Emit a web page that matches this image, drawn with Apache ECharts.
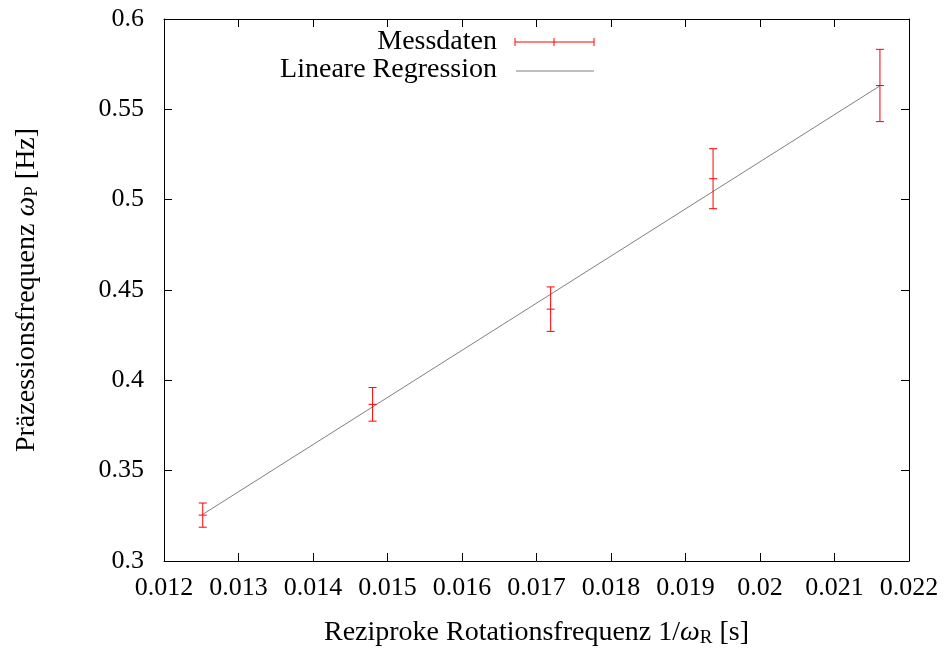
<!DOCTYPE html>
<html>
<head>
<meta charset="utf-8">
<script src="https://cdn.jsdelivr.net/npm/echarts@6/dist/echarts.min.js"></script>
<style>
html,body{margin:0;padding:0;background:#fff;}
#main{width:949px;height:653px;}
</style>
</head>
<body>
<div id="main"></div>
<script>
var xVals = [0.01252, 0.0148, 0.01719, 0.01937, 0.02161];
var yVals = [0.3254, 0.3867, 0.4394, 0.5116, 0.5632];
var yErr = [0.0067, 0.0093, 0.0123, 0.0166, 0.0200];
// lineare Regression, Endpunkte
var regX = [0.01252, 0.02161];
var regY = [0.3258, 0.5630];

var FONT = '"Liberation Serif", "Times New Roman", serif';

var errData = xVals.map(function (x, i) {
    return [x, yVals[i], yVals[i] - yErr[i], yVals[i] + yErr[i]];
});
var regData = regX.map(function (x, i) { return [x, regY[i]]; });

var chart = echarts.init(document.getElementById('main'));

var tickStyle = { show: true, inside: true, length: 8, lineStyle: { color: '#000', width: 1 } };
var lineStyle = { show: true, lineStyle: { color: '#000', width: 1 } };
var nameRich = {
    n: { fontFamily: FONT, fontSize: 28, color: '#000' },
    i: { fontFamily: FONT, fontSize: 28, fontStyle: 'italic', color: '#000' },
    s: { fontFamily: FONT, fontSize: 19, color: '#000', padding: [12, 0, 0, 0] }
};

var option = {
    animation: false,
    backgroundColor: '#fff',
    grid: { left: 164, right: 40, top: 19, bottom: 91 },
    xAxis: [{
        type: 'value',
        min: 0.012, max: 0.022, interval: 0.001,
        axisLine: lineStyle,
        axisTick: tickStyle,
        splitLine: { show: false },
        axisLabel: {
            margin: 14,
            color: '#000',
            fontFamily: FONT,
            fontSize: 26,
            formatter: function (v) { return String(parseFloat(v.toFixed(3))); }
        },
        name: '{n|Reziproke Rotationsfrequenz 1/}{i|ω}{s|R}{n| [s]}',
        nameLocation: 'middle',
        nameGap: 56,
        nameTextStyle: { color: '#000', rich: nameRich }
    }, {
        type: 'value', position: 'top',
        min: 0.012, max: 0.022, interval: 0.001,
        axisLine: lineStyle,
        axisTick: tickStyle,
        axisLabel: { show: false },
        splitLine: { show: false }
    }],
    yAxis: [{
        type: 'value',
        min: 0.3, max: 0.6, interval: 0.05,
        axisLine: lineStyle,
        axisTick: tickStyle,
        splitLine: { show: false },
        axisLabel: {
            margin: 20,
            color: '#000',
            fontFamily: FONT,
            fontSize: 26,
            formatter: function (v) { return String(parseFloat(v.toFixed(2))); }
        },
        name: '{n|Präzessionsfrequenz }{i|ω}{s|P}{n| [Hz]}',
        nameLocation: 'middle',
        nameGap: 122,
        nameTextStyle: { color: '#000', rich: nameRich }
    }, {
        type: 'value', position: 'right',
        min: 0.3, max: 0.6, interval: 0.05,
        axisLine: lineStyle,
        axisTick: tickStyle,
        axisLabel: { show: false },
        splitLine: { show: false }
    }],
    series: [{
        name: 'Lineare Regression',
        type: 'line',
        data: regData,
        symbol: 'none',
        lineStyle: { color: '#808080', width: 1 },
        z: 2
    }, {
        name: 'Messdaten',
        type: 'custom',
        data: errData,
        encode: { x: 0, y: 1 },
        z: 3,
        renderItem: function (params, api) {
            var x = api.value(0);
            var c = api.coord([x, api.value(1)]);
            var lo = api.coord([x, api.value(2)]);
            var hi = api.coord([x, api.value(3)]);
            var w = 4;
            var st = { stroke: '#ff0000', lineWidth: 1 };
            return {
                type: 'group',
                children: [
                    { type: 'line', shape: { x1: c[0], y1: lo[1], x2: c[0], y2: hi[1] }, style: st },
                    { type: 'line', shape: { x1: c[0] - w, y1: lo[1], x2: c[0] + w, y2: lo[1] }, style: st },
                    { type: 'line', shape: { x1: c[0] - w, y1: hi[1], x2: c[0] + w, y2: hi[1] }, style: st },
                    { type: 'line', shape: { x1: c[0] - w, y1: c[1], x2: c[0] + w, y2: c[1] }, style: st }
                ]
            };
        }
    }],
    // Legende wie im Original: Text rechtsbuendig, Symbol rechts daneben
    graphic: [
        { type: 'text', right: 452, top: 28, style: { text: 'Messdaten', font: '28px ' + FONT, fill: '#000', textAlign: 'right' } },
        { type: 'line', shape: { x1: 515, y1: 42, x2: 594, y2: 42 }, style: { stroke: '#ff0000', lineWidth: 1 } },
        { type: 'line', shape: { x1: 515, y1: 38, x2: 515, y2: 46 }, style: { stroke: '#ff0000', lineWidth: 1 } },
        { type: 'line', shape: { x1: 594, y1: 38, x2: 594, y2: 46 }, style: { stroke: '#ff0000', lineWidth: 1 } },
        { type: 'line', shape: { x1: 554, y1: 38, x2: 554, y2: 46 }, style: { stroke: '#ff0000', lineWidth: 1 } },
        { type: 'text', right: 452, top: 56, style: { text: 'Lineare Regression', font: '28px ' + FONT, fill: '#000', textAlign: 'right' } },
        { type: 'line', shape: { x1: 516, y1: 71, x2: 594, y2: 71 }, style: { stroke: '#808080', lineWidth: 1 } }
    ]
};

chart.setOption(option);
</script>
</body>
</html>
